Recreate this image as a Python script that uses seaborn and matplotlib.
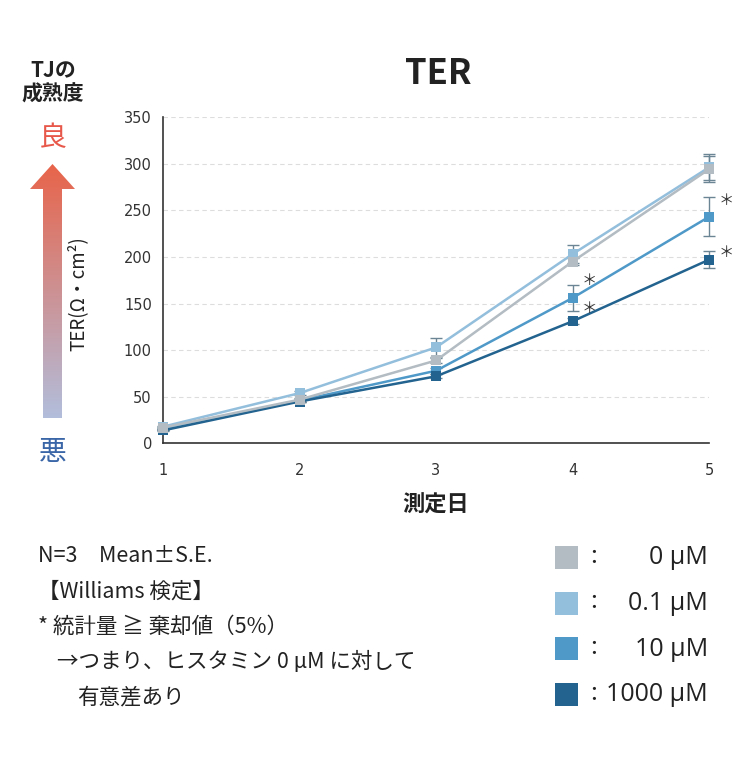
import matplotlib
matplotlib.use("Agg")
import matplotlib.pyplot as plt
from matplotlib.patches import Polygon, Rectangle
from matplotlib.colors import LinearSegmentedColormap
import numpy as np
import pandas as pd
import seaborn as sns

# data
days = [1, 2, 3, 4, 5]
groups = ["0 µM", "0.1 µM", "10 µM", "1000 µM"]
ter_0 = [17, 47, 89, 195, 294]
ter_01 = [18, 54, 103, 203, 296]
ter_10 = [15, 46, 78, 156, 243]
ter_1000 = [14, 45, 72, 131, 197]
se_0 = [1, 2, 3, 4, 14]
se_01 = [1, 2, 10, 10, 14]
se_10 = [1, 2, 3, 14, 21]
se_1000 = [1, 1, 2, 3, 9]
colors = ["#b3bcc2", "#93bedc", "#4f99c8", "#22638f"]
# significance marks (group, day)
sig_marks = [("10 µM", 4), ("1000 µM", 4), ("10 µM", 5), ("1000 µM", 5)]

y_ticks = [0, 50, 100, 150, 200, 250, 300, 350]
notes = [
    "N=3　Mean±S.E.",
    "【Williams 検定】",
    "* 統計量 ≧ 棄却値（5%）",
    "→つまり、ヒスタミン 0 µM に対して",
    "有意差あり",
]
note_x = [38, 38, 38, 57, 77]

means = {"0 µM": ter_0, "0.1 µM": ter_01, "10 µM": ter_10, "1000 µM": ter_1000}
ses = {"0 µM": se_0, "0.1 µM": se_01, "10 µM": se_10, "1000 µM": se_1000}
palette = dict(zip(groups, colors))

df = pd.DataFrame(
    [(g, d, m, s) for g in groups for d, m, s in zip(days, means[g], ses[g])],
    columns=["group", "day", "ter", "se"],
)

sns.set_style("white")
plt.rcParams["font.family"] = ["Noto Sans CJK JP", "DejaVu Sans"]

fig = plt.figure(figsize=(7.5, 7.6), dpi=100)

# overlay axes in pixel coords for arrow / legend / notes
ov = fig.add_axes([0, 0, 1, 1], zorder=0)
ov.axis("off")

ax = fig.add_axes([163 / 750, 1 - 443.5 / 760, 546 / 750, 326.5 / 760], zorder=1)
ax.set_facecolor("none")

order = ["0.1 µM", "10 µM", "1000 µM", "0 µM"]
for g in order:
    sub = df[df.group == g]
    ax.errorbar(sub.day, sub.ter, yerr=sub.se, fmt="none", ecolor="#6b8594",
                elinewidth=1, capsize=4, capthick=1, clip_on=False, zorder=2)
sns.lineplot(data=df, x="day", y="ter", hue="group", hue_order=order,
             palette=palette, marker="s", markersize=7, markeredgewidth=0,
             linewidth=1.8, legend=False, ax=ax, zorder=3)
for line in ax.lines:
    line.set_clip_on(False)

# asterisks sit a bit above the mean
star_lift = [19, 14, 17, 8]
for (g, d), lift in zip(sig_marks, star_lift):
    y = means[g][days.index(d)] + lift
    ax.text(d + 0.125, y, "＊", ha="center", va="center", fontsize=11, color="#333333")

ax.set_xlim(1, 5)
ax.set_ylim(0, 350)
ax.set_xticks(days)
ax.set_yticks(y_ticks)
ax.tick_params(axis="both", length=0, labelsize=10.5, colors="#333333")
ax.tick_params(axis="x", pad=14)
ax.tick_params(axis="y", pad=8)
for t in ax.get_yticklabels() + ax.get_xticklabels():
    t.set_family("DejaVu Sans")
ax.yaxis.grid(True, linestyle=(0, (4, 3)), color="#dddddd", linewidth=0.8)
ax.set_axisbelow(True)
for pos in ["top", "right"]:
    ax.spines[pos].set_visible(False)
for pos in ["left", "bottom"]:
    ax.spines[pos].set_color("#333333")
    ax.spines[pos].set_linewidth(1.2)

ax.set_xlabel("測定日", fontsize=16, fontweight="bold", labelpad=11, color="#222222")
ax.set_ylabel("TER(Ω・cm²)", fontsize=13.5, color="#222222")
ax.yaxis.set_label_coords(-0.137, 0.46)

fig.text(438 / 750, 1 - 74 / 760, "TER", fontsize=25, fontweight="bold",
         ha="center", va="center", color="#222222")

# gradient arrow
arrow_pts = [(43, 418), (43, 189), (30, 189), (52.5, 164), (75, 189), (62, 189), (62, 418)]
cmap = LinearSegmentedColormap.from_list("arr", ["#b2bedc", "#e8644a"])
grad = np.linspace(0, 1, 256).reshape(-1, 1)
im = ov.imshow(grad, cmap=cmap, extent=(30, 75, 418, 164), origin="lower", aspect="auto")
poly = Polygon(arrow_pts, closed=True, facecolor="none", edgecolor="none")
ov.add_patch(poly)
im.set_clip_path(poly)
ov.set_xlim(0, 750)
ov.set_ylim(760, 0)

ov.text(53, 82, "TJの\n成熟度", ha="center", va="center", fontsize=15,
        fontweight="bold", color="#222222", linespacing=1.15)
ov.text(53, 138, "良", ha="center", va="center", fontsize=20, color="#e8584a")
ov.text(53, 452, "悪", ha="center", va="center", fontsize=20, color="#3a66a8")

# notes
for i, (x, line) in enumerate(zip(note_x, notes)):
    ov.text(x, 556 + i * 35.3, line, ha="left", va="center", fontsize=15.5, color="#222222")

# legend
for i, (g, c) in enumerate(zip(groups, colors)):
    y = 558 + i * 45.5
    ov.add_patch(Rectangle((555, y - 12), 23, 23, facecolor=c, edgecolor="none"))
    ov.text(594, y, "：", ha="center", va="center", fontsize=15, color="#222222")
    ov.text(708, y, g, ha="right", va="center", fontsize=18, color="#222222",
            family=["Open Sans", "DejaVu Sans"])

fig.savefig("out.png", dpi=100)
